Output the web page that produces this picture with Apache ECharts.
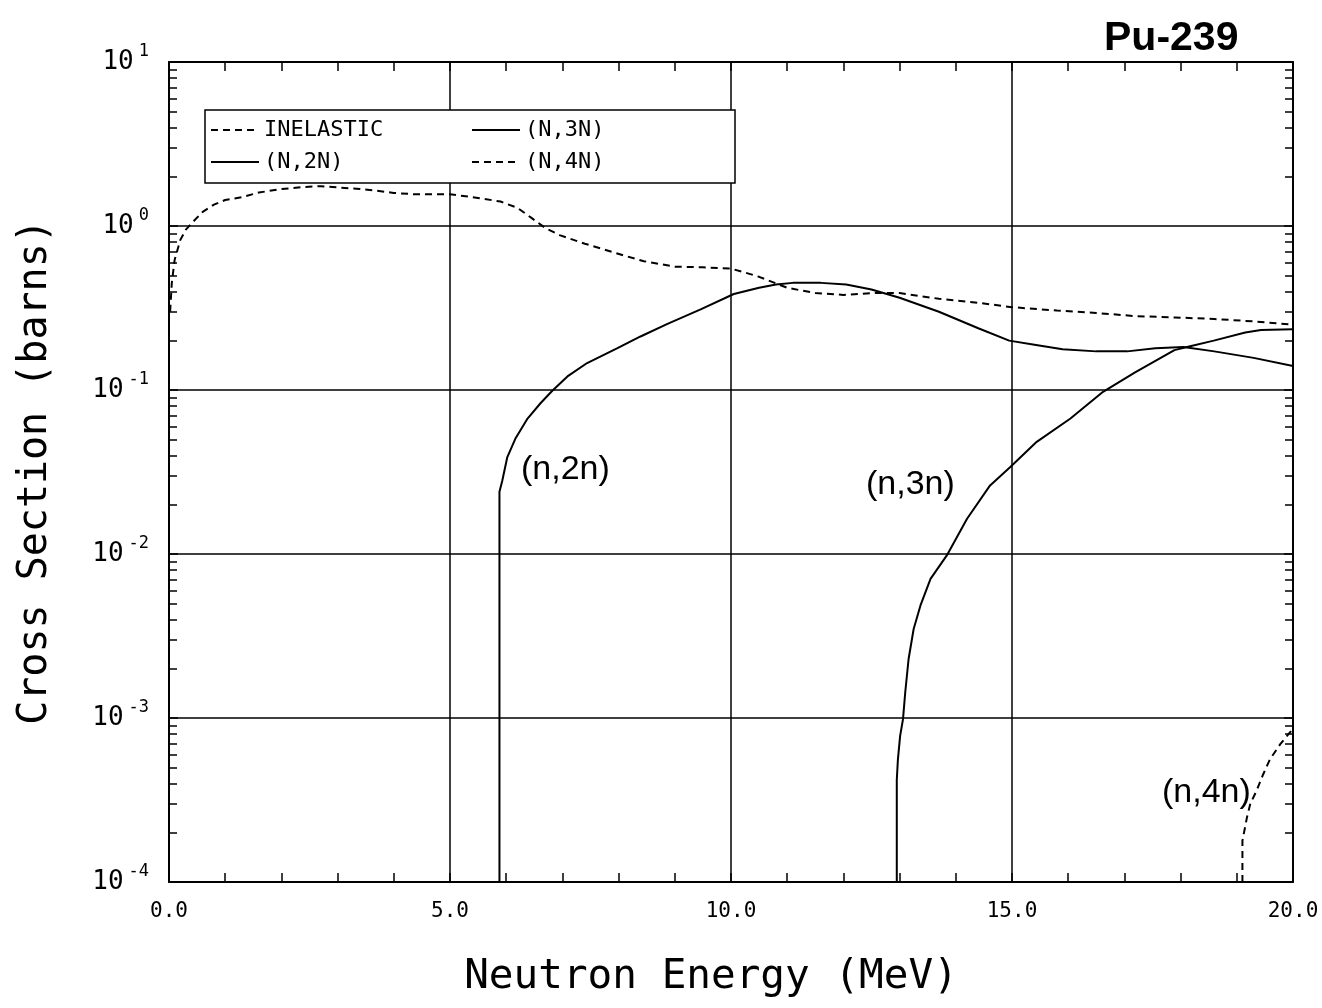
<!DOCTYPE html>
<html>
<head>
<meta charset="utf-8">
<title>Pu-239 cross sections</title>
<script src="https://cdn.jsdelivr.net/npm/echarts@6/dist/echarts.min.js"></script>
<style>
  html, body { margin: 0; padding: 0; background: #fff; }
  #chart { width: 1322px; height: 1008px; }
</style>
</head>
<body>
<div id="chart"></div>
<script>
// Neutron energy (MeV) and cross section (barns) for each reaction
const inelasticE = [0.02, 0.05, 0.1, 0.2, 0.3, 0.45, 0.6, 0.8, 1.0, 1.3, 1.6, 2.0, 2.4, 2.7, 3.0, 3.4, 3.7, 4.0, 4.4, 5.0, 5.4, 5.9, 6.2, 6.45, 6.7, 6.95, 7.4, 8.1, 8.45, 9.0, 9.5, 10.0, 10.25, 10.5, 11.0, 11.5, 12.0, 12.5, 13.0, 13.7, 14.4, 15.0, 15.8, 16.5, 17.2, 17.9, 18.6, 19.3, 20.0];
const inelasticXS = [0.3, 0.45, 0.62, 0.82, 0.95, 1.08, 1.22, 1.35, 1.44, 1.5, 1.6, 1.68, 1.73, 1.75, 1.72, 1.68, 1.64, 1.59, 1.56, 1.56, 1.5, 1.41, 1.29, 1.12, 0.97, 0.88, 0.78, 0.66, 0.61, 0.565, 0.56, 0.55, 0.52, 0.49, 0.42, 0.39, 0.38, 0.39, 0.39, 0.36, 0.34, 0.32, 0.305, 0.295, 0.282, 0.277, 0.271, 0.262, 0.25];

const n2nE = [5.88, 5.88, 5.93, 6.02, 6.17, 6.38, 6.61, 6.82, 7.09, 7.44, 7.98, 8.39, 8.87, 9.46, 10.05, 10.5, 10.8, 11.1, 11.6, 12.05, 12.5, 13.0, 13.7, 14.4, 14.95, 15.4, 15.9, 16.5, 17.05, 17.55, 18.05, 18.6, 19.3, 20.0];
const n2nXS = [1e-4, 0.024, 0.028, 0.039, 0.051, 0.067, 0.083, 0.099, 0.121, 0.146, 0.18, 0.212, 0.253, 0.31, 0.385, 0.42, 0.44, 0.45, 0.45, 0.44, 0.41, 0.365, 0.3, 0.238, 0.2, 0.189, 0.177, 0.172, 0.172, 0.18, 0.183, 0.172, 0.157, 0.14];

const n3nE = [12.95, 12.95, 12.97, 13.01, 13.06, 13.1, 13.16, 13.25, 13.37, 13.55, 13.84, 14.2, 14.61, 14.97, 15.44, 16.04, 16.62, 17.19, 17.89, 18.17, 18.59, 19.15, 19.43, 20.0];
const n3nXS = [1e-4, 4.2e-4, 5.6e-4, 7.8e-4, 9.8e-4, 1.43e-3, 2.29e-3, 3.49e-3, 4.84e-3, 7.05e-3, 9.8e-3, 0.0164, 0.0262, 0.0339, 0.0483, 0.067, 0.0975, 0.128, 0.175, 0.185, 0.2, 0.224, 0.232, 0.235];

const n4nE = [19.1, 19.1, 19.18, 19.24, 19.35, 19.47, 19.59, 19.77, 19.95, 20.0];
const n4nXS = [1e-4, 1.78e-4, 2.47e-4, 3.0e-4, 3.59e-4, 4.54e-4, 5.6e-4, 6.9e-4, 8.2e-4, 8.6e-4];

const seriesNames = ['INELASTIC', '(N,2N)', '(N,3N)', '(N,4N)'];
const legendOrder = ['INELASTIC', '(N,3N)', '(N,2N)', '(N,4N)'];
const curveLabels = ['(n,2n)', '(n,3n)', '(n,4n)'];

const MONO = 'DejaVu Sans Mono';
const SANS = 'Liberation Sans';

function pairs(xs, ys) { return xs.map((x, i) => [x, ys[i]]); }

function lineSeries(name, xs, ys, dashed) {
  return {
    name: name,
    type: 'line',
    xAxisIndex: 0,
    yAxisIndex: 0,
    data: pairs(xs, ys),
    symbol: 'none',
    showSymbol: false,
    smooth: false,
    clip: true,
    itemStyle: { color: '#000' },
    lineStyle: { color: '#000', width: 2, type: dashed ? [7, 5] : 'solid' },
    emphasis: { disabled: true }
  };
}

const chart = echarts.init(document.getElementById('chart'), null, { renderer: 'canvas' });

const xBase = {
  type: 'value', min: 0, max: 20, interval: 5,
  axisLine: { show: true, onZero: false, lineStyle: { color: '#000', width: 2 } },
  axisTick: { show: true, inside: true, length: 9, lineStyle: { color: '#000', width: 1.5 } },
  minorTick: { show: true, splitNumber: 5, length: 9, lineStyle: { color: '#000', width: 1.5 } }
};
const yBase = {
  type: 'log', logBase: 10, min: 1e-4, max: 10,
  axisLine: { show: true, onZero: false, lineStyle: { color: '#000', width: 2 } },
  axisTick: { show: true, inside: true, length: 9, lineStyle: { color: '#000', width: 1.5 } },
  minorTick: { show: true, splitNumber: 9, length: 8, lineStyle: { color: '#000', width: 1.5 } }
};

chart.setOption({
  animation: false,
  backgroundColor: '#fff',
  title: {
    text: 'Pu-239', left: 1099, top: 13,
    textStyle: { fontFamily: SANS, fontSize: 41, fontWeight: 'bold', color: '#000' }
  },
  grid: { left: 169, right: 29, top: 62, bottom: 126, containLabel: false },
  legend: {
    data: legendOrder,
    orient: 'horizontal',
    left: 205, top: 110, width: 600,
    padding: [9, 13, 10, 5],
    itemWidth: 48, itemHeight: 20, itemGap: 10,
    backgroundColor: '#fff', borderColor: '#000', borderWidth: 1.5,
    selectedMode: false,
    itemStyle: { color: 'rgba(0,0,0,0)', borderColor: 'rgba(0,0,0,0)', borderWidth: 0 },
    textStyle: { fontFamily: MONO, fontSize: 22, color: '#000', width: 197, overflow: 'truncate', lineHeight: 20 }
  },
  xAxis: [
    Object.assign({}, xBase, {
      position: 'bottom',
      name: 'Neutron Energy (MeV)', nameLocation: 'middle', nameGap: 75,
      nameTextStyle: { fontFamily: MONO, fontSize: 41, color: '#000', padding: [0, 40, 0, 0] },
      axisLabel: { show: true, margin: 19, fontFamily: MONO, fontSize: 21, color: '#000',
        formatter: v => v.toFixed(1) },
      splitLine: { show: true, lineStyle: { color: '#000', width: 1.5 } }
    }),
    Object.assign({}, xBase, {
      position: 'top',
      axisLabel: { show: false },
      splitLine: { show: false }
    })
  ],
  yAxis: [
    Object.assign({}, yBase, {
      position: 'left',
      name: 'Cross Section (barns)', nameLocation: 'middle', nameGap: 113,
      nameTextStyle: { fontFamily: MONO, fontSize: 40, color: '#000' },
      axisLabel: {
        show: true, margin: 20,
        formatter: v => '{b|10}{e|' + Math.round(Math.log10(v)) + '}',
        rich: {
          b: { fontFamily: MONO, fontSize: 26, color: '#000', lineHeight: 38, verticalAlign: 'middle', padding: [0, 5, 0, 0] },
          e: { fontFamily: MONO, fontSize: 17, color: '#000', lineHeight: 14, verticalAlign: 'top' }
        }
      },
      splitLine: { show: true, lineStyle: { color: '#000', width: 1.5 } }
    }),
    Object.assign({}, yBase, {
      position: 'right',
      axisLabel: { show: false },
      splitLine: { show: false }
    })
  ],
  graphic: [
    { type: 'text', left: 521, top: 453, z: 10,
      style: { text: curveLabels[0], font: '34px "Liberation Sans"', fill: '#000' } },
    { type: 'text', left: 866, top: 468, z: 10,
      style: { text: curveLabels[1], font: '34px "Liberation Sans"', fill: '#000' } },
    { type: 'text', left: 1162, top: 776, z: 10,
      style: { text: curveLabels[2], font: '34px "Liberation Sans"', fill: '#000' } }
  ],
  series: [
    lineSeries(seriesNames[0], inelasticE, inelasticXS, true),
    lineSeries(seriesNames[1], n2nE, n2nXS, false),
    lineSeries(seriesNames[2], n3nE, n3nXS, false),
    lineSeries(seriesNames[3], n4nE, n4nXS, true)
  ]
});
</script>
</body>
</html>
